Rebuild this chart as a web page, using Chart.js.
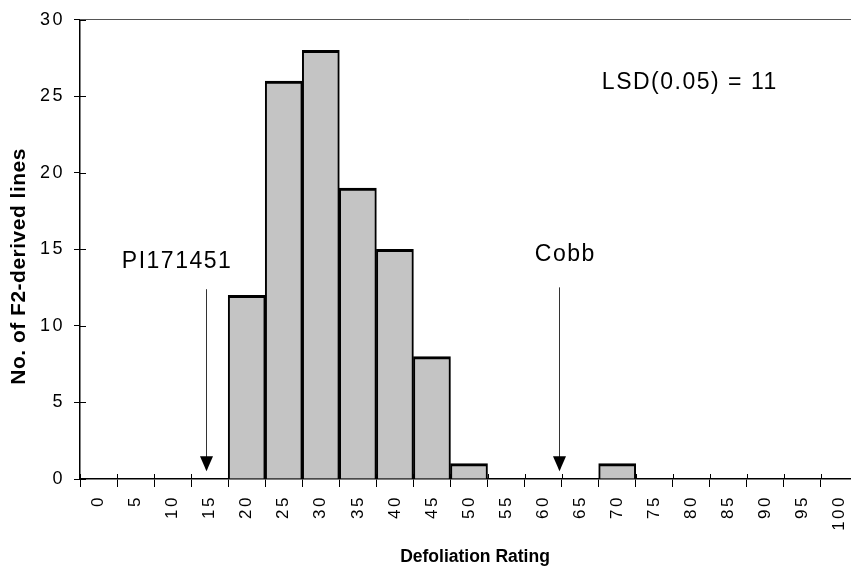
<!DOCTYPE html>
<html>
<head>
<meta charset="utf-8">
<script src="https://cdn.jsdelivr.net/npm/chart.js@4.4.1/dist/chart.umd.min.js"></script>
<style>
html,body{margin:0;padding:0;background:#fff;overflow:hidden;width:851px;height:571px}
#wrap{width:880px;height:571px}
</style>
</head>
<body>
<div id="wrap"><canvas id="c" width="880" height="571"></canvas></div>
<script>
// ---- data ----
const ratingBins = ['0','5','10','15','20','25','30','35','40','45','50','55','60','65','70','75','80','85','90','95','100'];
const lineCounts = [0,0,0,0,12,26,28,19,15,8,1,0,0,0,1,0,0,0,0,0,0];
const yTickValues = [0,5,10,15,20,25,30];
const annotationTexts = ['PI171451','Cobb','LSD(0.05) = 11'];
const arrowRatings = [14.5, 62.2];   // defoliation rating each arrow points to

// ---- annotation placement (data units: rating, count) ----
const annotationPlacement = [
  {rating: 10.6, count: 14.2},
  {rating: 63.0, count: 14.65},
  {rating: 79.8, count: 25.9}
];
const arrowSpan = [{top: 12.4, tip: 0.5}, {top: 12.52, tip: 0.5}];

const FONT = '"Liberation Sans", Arial, Helvetica, sans-serif';

function patchScale(scale, spacing, titleSpacing, dx, dy) {
  if (scale._lsPatched) return;
  const origLabels = scale.drawLabels;
  const origTitle = scale.drawTitle;
  scale.drawLabels = function(...a){ const c=this.ctx; c.save(); c.letterSpacing=spacing; origLabels.apply(this,a); c.restore(); };
  scale.drawTitle = function(...a){ const c=this.ctx; c.save(); c.letterSpacing=titleSpacing; c.translate(dx, dy); origTitle.apply(this,a); c.restore(); };
  scale._lsPatched = true;
}

const decorPlugin = {
  id: 'decor',
  beforeDraw(chart){
    patchScale(chart.scales.x, '2.5px', '0px', 6, 0);
    patchScale(chart.scales.y, '2.5px', '0.5px', 0, 17);
  },
  afterDatasetsDraw(chart){
    const ctx = chart.ctx, xs = chart.scales.x, ys = chart.scales.y;
    const area = chart.chartArea;
    const px = r => xs.getPixelForValue(r / 5);
    ctx.save();
    // inner halves of tick marks
    ctx.strokeStyle = '#000'; ctx.lineWidth = 1;
    yTickValues.forEach(v => {
      const y = Math.round(ys.getPixelForValue(v)) + 0.5;
      ctx.beginPath(); ctx.moveTo(area.left, y); ctx.lineTo(area.left + 6, y); ctx.stroke();
    });
    for (let i = 0; i <= ratingBins.length; i++) {
      const x = Math.round(xs.getPixelForValue(i - 0.5)) + 0.5;
      ctx.beginPath(); ctx.moveTo(x, area.bottom - 5); ctx.lineTo(x, area.bottom); ctx.stroke();
    }
    // arrows
    arrowRatings.forEach((r, k) => {
      const x = Math.round(px(r)) + 0.5;
      const yTop = ys.getPixelForValue(arrowSpan[k].top);
      const yTip = ys.getPixelForValue(arrowSpan[k].tip);
      ctx.strokeStyle = '#333'; ctx.lineWidth = 1;
      ctx.beginPath(); ctx.moveTo(x, yTop); ctx.lineTo(x, yTip - 12); ctx.stroke();
      ctx.fillStyle = '#000';
      ctx.beginPath(); ctx.moveTo(x - 6.5, yTip - 15); ctx.lineTo(x + 6.5, yTip - 15); ctx.lineTo(x, yTip); ctx.closePath(); ctx.fill();
    });
    // labels
    ctx.fillStyle = '#000';
    ctx.font = '23px ' + FONT;
    ctx.letterSpacing = '1.5px';
    ctx.textAlign = 'center'; ctx.textBaseline = 'middle';
    annotationTexts.forEach((t, k) => {
      const p = annotationPlacement[k];
      ctx.fillText(t, px(p.rating), ys.getPixelForValue(p.count));
    });
    ctx.restore();
  }
};

new Chart(document.getElementById('c'), {
  type: 'bar',
  data: {
    labels: ratingBins,
    datasets: [{
      data: lineCounts,
      backgroundColor: '#c4c4c4',
      borderColor: '#000',
      borderWidth: {top: 3, left: 2, right: 2, bottom: 0},
      borderSkipped: 'start',
      barPercentage: 1,
      categoryPercentage: 1
    }]
  },
  options: {
    responsive: false,
    devicePixelRatio: 1,
    animation: false,
    layout: {padding: {left: 0, top: 14, right: 22, bottom: 0}},
    plugins: {legend: {display: false}, tooltip: {enabled: false}, title: {display: false}},
    scales: {
      x: {
        offset: true,
        grid: {display: true, drawOnChartArea: false, offset: true, tickLength: 8, tickColor: '#000', tickWidth: 1},
        border: {display: true, color: '#000', width: 1.5},
        ticks: {color: '#000', font: {family: FONT, size: 17}, minRotation: 90, maxRotation: 90, padding: 8, autoSkip: false},
        title: {display: true, text: 'Defoliation Rating', color: '#000', font: {family: FONT, size: 17.5, weight: 'bold'}, padding: {top: 0, bottom: 3}},
        afterFit: s => { s.height = 92; }
      },
      y: {
        min: 0, max: 30,
        afterBuildTicks: s => { s.ticks = yTickValues.map(v => ({value: v})); },
        grid: {
          drawOnChartArea: true,
          color: c => (c.tick && c.tick.value === 30) ? '#555' : 'rgba(0,0,0,0)',
          lineWidth: 1,
          tickLength: 6, tickColor: '#000', tickWidth: 1
        },
        border: {display: true, color: '#000', width: 1.5},
        ticks: {color: '#000', font: {family: FONT, size: 18}, padding: 9},
        title: {display: true, text: 'No. of F2-derived lines', color: '#000', font: {family: FONT, size: 21, weight: 'bold'}, padding: {top: 7, bottom: 0}},
        afterFit: s => { s.width = 80; }
      }
    }
  },
  plugins: [decorPlugin]
});
</script>
</body>
</html>
